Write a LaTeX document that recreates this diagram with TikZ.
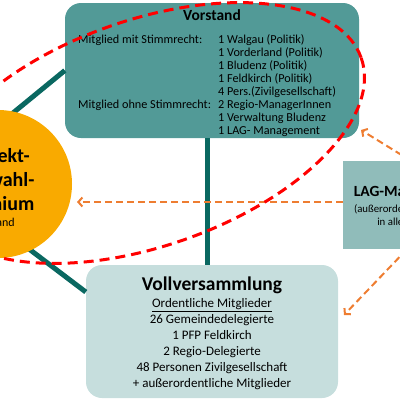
\documentclass[tikz,border=0pt]{standalone}
\usepackage{fontspec}
\setmainfont{Carlito}
\usetikzlibrary{arrows.meta}
\definecolor{vorfill}{RGB}{82,154,151}
\definecolor{vollfill}{RGB}{198,222,221}
\definecolor{lagfill}{RGB}{144,188,186}
\definecolor{pagfill}{RGB}{249,170,0}
\definecolor{tealline}{RGB}{10,104,97}
\definecolor{orangearr}{RGB}{238,125,49}
\definecolor{redring}{RGB}{255,0,0}
\tikzset{
  boxround/.style={rounded corners=16pt, inner sep=0pt, draw=none},
  tealconn/.style={draw=tealline, line width=5pt},
  lagarrow/.style={draw=orangearr, line width=2pt, dash pattern=on 7pt off 4pt,
     -{Straight Barb[length=4pt,width=9pt,line width=2pt]}},
  redellipse/.style={draw=redring, line width=3pt, dash pattern=on 10pt off 6pt},
  vtext/.style={anchor=base west, inner sep=0pt, font=\fontsize{12.2}{12.9}\selectfont},
}
\begin{document}
\begin{tikzpicture}[x=1pt,y=-1pt]
\useasboundingbox (0,0) rectangle (400,400);
% nodes (boxes)
\node[boxround, fill=vorfill, minimum width=294pt, minimum height=135pt] (vorstand) at (212,70.5) {};
\node[boxround, fill=vollfill, minimum width=252pt, minimum height=133pt] (voll) at (212,331.5) {};
\node[draw=none, fill=lagfill, minimum width=136pt, minimum height=88pt, inner sep=0pt] (lag) at (411,205) {};
% teal connectors (behind circle)
\coordinate (c1) at (-20,140);
\coordinate (c2) at (0,227);
\draw[tealconn] (vorstand.west) -- (c1);
\draw[tealconn] ([yshift=39.5pt]voll.west) -- (c2);
\draw[tealconn] ([xshift=-5pt]vorstand.south) -- ([xshift=-5pt]voll.north);
% circle
\node[circle, fill=pagfill, minimum size=148pt, inner sep=0pt] (pag) at (-2,184) {};
\node[align=center, inner sep=0pt, font=\bfseries\fontsize{20}{23.8}\selectfont] (pagt) at (-3,181) {Projekt-\\auswahl-\\gremium};
\node[inner sep=0pt, font=\fontsize{12}{14}\selectfont] (pags) at (-7,222) {Vorstand};
% Vorstand texts
\node[inner sep=0pt, font=\bfseries\fontsize{15.5}{18}\selectfont] (vt) at (212,15) {Vorstand};
\node[vtext] (vl1) at (78,43.5) {Mitglied mit Stimmrecht:};
\node[vtext] (vl2) at (78,108.1) {Mitglied ohne Stimmrecht:};
\foreach \t [count=\i] in {1 Walgau (Politik), 1 Vorderland (Politik), 1 Bludenz (Politik), 1 Feldkirch (Politik), 4 Pers.(Zivilgesellschaft), 2 Regio-ManagerInnen, 1 Verwaltung Bludenz, 1 LAG- Management}
  \node[vtext] (vr\i) at (218,{43.5+12.93*(\i-1)}) {\t};
% Vollversammlung texts
\node[inner sep=0pt, font=\bfseries\fontsize{19.5}{22}\selectfont] (vvt) at (212,285) {Vollversammlung};
\node[align=center, inner sep=0pt, font=\fontsize{13}{16}\selectfont] (vvb) at (212,344.5) {\underline{Ordentliche Mitglieder}\\26 Gemeindedelegierte\\1 PFP Feldkirch\\2 Regio-Delegierte\\48 Personen Zivilgesellschaft\\+ außerordentliche Mitglieder};
% LAG texts
\node[inner sep=0pt, font=\bfseries\fontsize{15.5}{18}\selectfont] (lagt) at (412,193) {LAG-Management};
\node[align=center, inner sep=0pt, font=\fontsize{10.8}{13}\selectfont] (lagb) at (415,216) {(außerordentliches Mitglied\\in allen Gremien)};
% orange arrows
\coordinate (a1) at (77,202);
\coordinate (a2) at (361,130);
\coordinate (a3) at (344,315);
\draw[lagarrow] ([yshift=3pt]lag.west) -- (a1);
\draw[lagarrow] (lag.north) -- (a2);
\draw[lagarrow] ([xshift=-4pt]lag.south) -- (a3);
% red dashed ellipse
\draw[redellipse, rotate around={19.3:(147,133)}] (147,133) ellipse [x radius=227, y radius=113];
\end{tikzpicture}
\end{document}
